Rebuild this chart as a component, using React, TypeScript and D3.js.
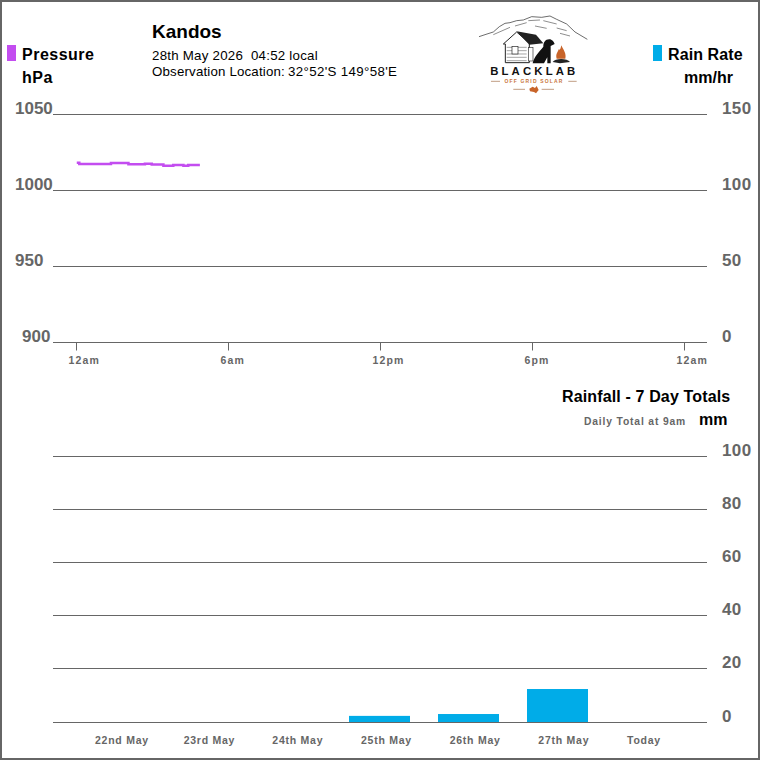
import { useEffect, useRef } from "react";
import * as d3 from "d3";

// pressure trace
const pressureHours = [0.03, 0.13, 1.34, 1.38, 2.07, 2.72, 2.99, 3.45, 3.84, 4.24, 4.43, 4.89];
const pressureValues = [1018, 1017.1, 1017.1, 1017.8, 1016.9, 1017.3, 1016.7, 1016, 1016.4, 1016, 1016.4, 1016.4];
const pressureTicks = [900, 950, 1000, 1050];
const rainRateTicks = [0, 50, 100, 150];
const hourTicks = [0, 6, 12, 18, 24];
const hourLabels = ["12am", "6am", "12pm", "6pm", "12am"];

const rainDays = ["22nd May", "23rd May", "24th May", "25th May", "26th May", "27th May", "Today"];
const rainTotals = [0, 0, 0, 2.3, 3, 12.4, 0];
const rainTicks = [0, 20, 40, 60, 80, 100];

const GREY = "#666666";
const PURPLE = "#c34df0";
const BLUE = "#00ace8";
const FONT = "'Liberation Sans', Arial, sans-serif";

// the left axis labels in the original don't share an edge
const pressureLabelX: Record<number, number> = { 1050: 15, 1000: 15, 950: 15, 900: 22 };

function Logo() {
  return (
    <g transform="translate(460,0) scale(0.3333)">
      <path
        d="M57 110 L78 103 L100 96 L118 80 L135 70 L150 68 L170 62 L190 60 L215 50 L245 52 L270 48 L290 58 L320 72 L345 96 L382 118"
        fill="none" stroke="#222" strokeWidth={2}
      />
      <path d="M100 104 L150 82 M165 78 L200 68 M205 62 L240 60 M250 62 L290 72 M300 100 L330 108 M225 78 L260 85 M290 84 L320 92" fill="none" stroke="#555" strokeWidth={2} />
      <path d="M130 132 L170 96 L208 130 L208 188 L136 188 L136 132 Z" fill="#fff" stroke="#222" strokeWidth={3} />
      <path d="M170 94 L228 104 L250 130 L208 134 Z" fill="#222" />
      <path d="M140 142 H200 M140 152 H200 M140 162 H200 M140 172 H200 M140 182 H200" stroke="#777" strokeWidth={2} />
      <rect x={156} y={140} width={18} height={22} fill="#fff" stroke="#222" strokeWidth={2} />
      <rect x={205} y={143} width={14} height={40} fill="#fff" stroke="#333" strokeWidth={2} />
      <path
        d="M218 190 C222 170 238 155 250 140 C250 128 255 118 268 118 C276 118 282 126 284 132 L272 138 L272 190 L262 190 L262 172 L252 190 Z"
        fill="#111"
      />
      <path d="M290 176 C286 162 294 156 296 148 C300 152 302 146 304 136 C310 150 320 160 316 176 Z" fill="#c8642a" />
      <path d="M278 186 C285 174 322 174 330 186 L300 190 Z" fill="#222" />
      <text x={223} y={226} textAnchor="middle" fontFamily={FONT} fontWeight={700} fontSize={34} letterSpacing={9.5} fill="#111">BLACKLAB</text>
      <text x={222} y={250} textAnchor="middle" fontFamily={FONT} fontWeight={700} fontSize={15} letterSpacing={3.5} fill="#c8743a">OFF GRID SOLAR</text>
      <path d="M93 244 H120 M325 244 H350 M160 268 H195 M245 268 H282" stroke="#a06a44" strokeWidth={2} />
      <path d="M208 266 L218 260 L225 264 L230 258 L236 270 L228 280 L222 276 L210 274 Z" fill="#c8642a" />
    </g>
  );
}

export default function App() {
  const svgRef = useRef<SVGSVGElement | null>(null);

  useEffect(() => {
    const svgElement = svgRef.current;
    if (!svgElement) return;
    const svg = d3.select(svgElement).select<SVGGElement>("g.plots");
    svg.selectAll("*").remove();

    const gridLeft = 53;
    const gridRight = 707;

    const xHour = d3.scaleLinear().domain([0, 24]).range([76, 684]);
    const yPressure = d3.scaleLinear().domain([900, 1050]).range([342, 114]);
    const yRate = d3.scaleLinear().domain([0, 150]).range([342, 114]);

    const grid = (ticks: number[], y: d3.ScaleLinear<number, number>) => {
      svg
        .append("g")
        .selectAll("line")
        .data(ticks)
        .join("line")
        .attr("x1", gridLeft)
        .attr("x2", gridRight)
        .attr("y1", (d) => Math.floor(y(d)) + 0.5)
        .attr("y2", (d) => Math.floor(y(d)) + 0.5)
        .attr("stroke", GREY)
        .attr("stroke-width", 1);
    };

    const valueLabels = (
      ticks: number[],
      y: d3.ScaleLinear<number, number>,
      x: (d: number) => number,
      spacing: number
    ) => {
      svg
        .append("g")
        .selectAll("text")
        .data(ticks)
        .join("text")
        .attr("x", x)
        .attr("y", (d) => Math.floor(y(d)))
        .attr("font-family", FONT)
        .attr("font-weight", 700)
        .attr("font-size", 17)
        .attr("letter-spacing", spacing)
        .attr("fill", GREY)
        .text((d) => d);
    };

    grid(pressureTicks, yPressure);
    valueLabels(pressureTicks, yPressure, (d) => pressureLabelX[d], 0);
    valueLabels(rainRateTicks, yRate, () => 722, 0.4);

    // hour axis
    const hourAxis = svg
      .append("g")
      .attr("transform", "translate(0,342.5)")
      .call(
        d3
          .axisBottom(xHour)
          .tickValues(hourTicks)
          .tickSize(8)
          .tickFormat((_, i) => hourLabels[i])
      );
    hourAxis.select(".domain").remove();
    hourAxis.selectAll("line").attr("stroke", GREY);
    hourAxis
      .selectAll("text")
      .attr("text-anchor", "start")
      .attr("x", -8)
      .attr("y", 21)
      .attr("dy", 0)
      .attr("font-family", FONT)
      .attr("font-weight", 700)
      .attr("font-size", 10.5)
      .attr("letter-spacing", 1.15)
      .attr("fill", GREY);

    const line = d3
      .line<number>()
      .x((_, i) => xHour(pressureHours[i]))
      .y((d) => yPressure(d))
      .curve(d3.curveStepAfter);
    svg
      .append("path")
      .attr("d", line(pressureValues))
      .attr("fill", "none")
      .attr("stroke", PURPLE)
      .attr("stroke-width", 2.5);

    // rainfall
    const yRain = d3.scaleLinear().domain([0, 100]).range([722, 456]);
    const xDay = d3
      .scaleBand()
      .domain(rainDays)
      .range([68, 691])
      .paddingInner(28 / 89)
      .paddingOuter(14 / 89);
    const xDayLabel = d3.scalePoint().domain(rainDays).range([95, 627]);

    grid(rainTicks, yRain);
    valueLabels(rainTicks, yRain, () => 722, 0.4);

    svg
      .append("g")
      .selectAll("rect")
      .data(rainDays)
      .join("rect")
      .attr("x", (d) => xDay(d) ?? 0)
      .attr("width", xDay.bandwidth())
      .attr("y", (_, i) => yRain(rainTotals[i]))
      .attr("height", (_, i) => yRain(0) - yRain(rainTotals[i]))
      .attr("fill", BLUE);

    svg
      .append("g")
      .selectAll("text")
      .data(rainDays)
      .join("text")
      .attr("x", (d) => xDayLabel(d) ?? 0)
      .attr("y", 744)
      .attr("font-family", FONT)
      .attr("font-weight", 700)
      .attr("font-size", 10.5)
      .attr("letter-spacing", 0.75)
      .attr("fill", GREY)
      .text((d) => d);
  }, []);

  return (
    <svg
      ref={svgRef}
      width={760}
      height={760}
      viewBox="0 0 760 760"
      style={{ position: "absolute", left: 0, top: 0, background: "#fff" }}
    >
      <rect x={1} y={1} width={758} height={758} fill="#fff" stroke={GREY} strokeWidth={2} />

      <rect x={7} y={45} width={9} height={16} fill={PURPLE} />
      <text x={22} y={60} fontFamily={FONT} fontWeight={700} fontSize={16} letterSpacing={0.5} fill="#000">Pressure</text>
      <text x={22} y={83} fontFamily={FONT} fontWeight={700} fontSize={16} letterSpacing={0.5} fill="#000">hPa</text>

      <text x={152} y={38} fontFamily={FONT} fontWeight={700} fontSize={19} fill="#000">Kandos</text>
      <text x={152} y={60} fontFamily={FONT} fontSize={13.3} letterSpacing={0.24} fill="#000" xmlSpace="preserve">28th May 2026  04:52 local</text>
      <text x={152} y={76} fontFamily={FONT} fontSize={13.3} letterSpacing={0.17} fill="#000">Observation Location:</text>
      <text x={288} y={76} fontFamily={FONT} fontSize={13.3} letterSpacing={0.35} fill="#000">32°52'S 149°58'E</text>

      <Logo />

      <rect x={653} y={45} width={9} height={16} fill={BLUE} />
      <text x={668} y={60} fontFamily={FONT} fontWeight={700} fontSize={16} letterSpacing={0.1} fill="#000">Rain Rate</text>
      <text x={684} y={83} fontFamily={FONT} fontWeight={700} fontSize={16} fill="#000">mm/hr</text>

      <text x={562} y={402} fontFamily={FONT} fontWeight={700} fontSize={16} letterSpacing={0.14} fill="#000">Rainfall - 7 Day Totals</text>
      <text x={584} y={425} fontFamily={FONT} fontWeight={700} fontSize={10.3} letterSpacing={0.85} fill={GREY}>Daily Total at 9am</text>
      <text x={699} y={425} fontFamily={FONT} fontWeight={700} fontSize={16} fill="#000">mm</text>

      <g className="plots" />
    </svg>
  );
}
